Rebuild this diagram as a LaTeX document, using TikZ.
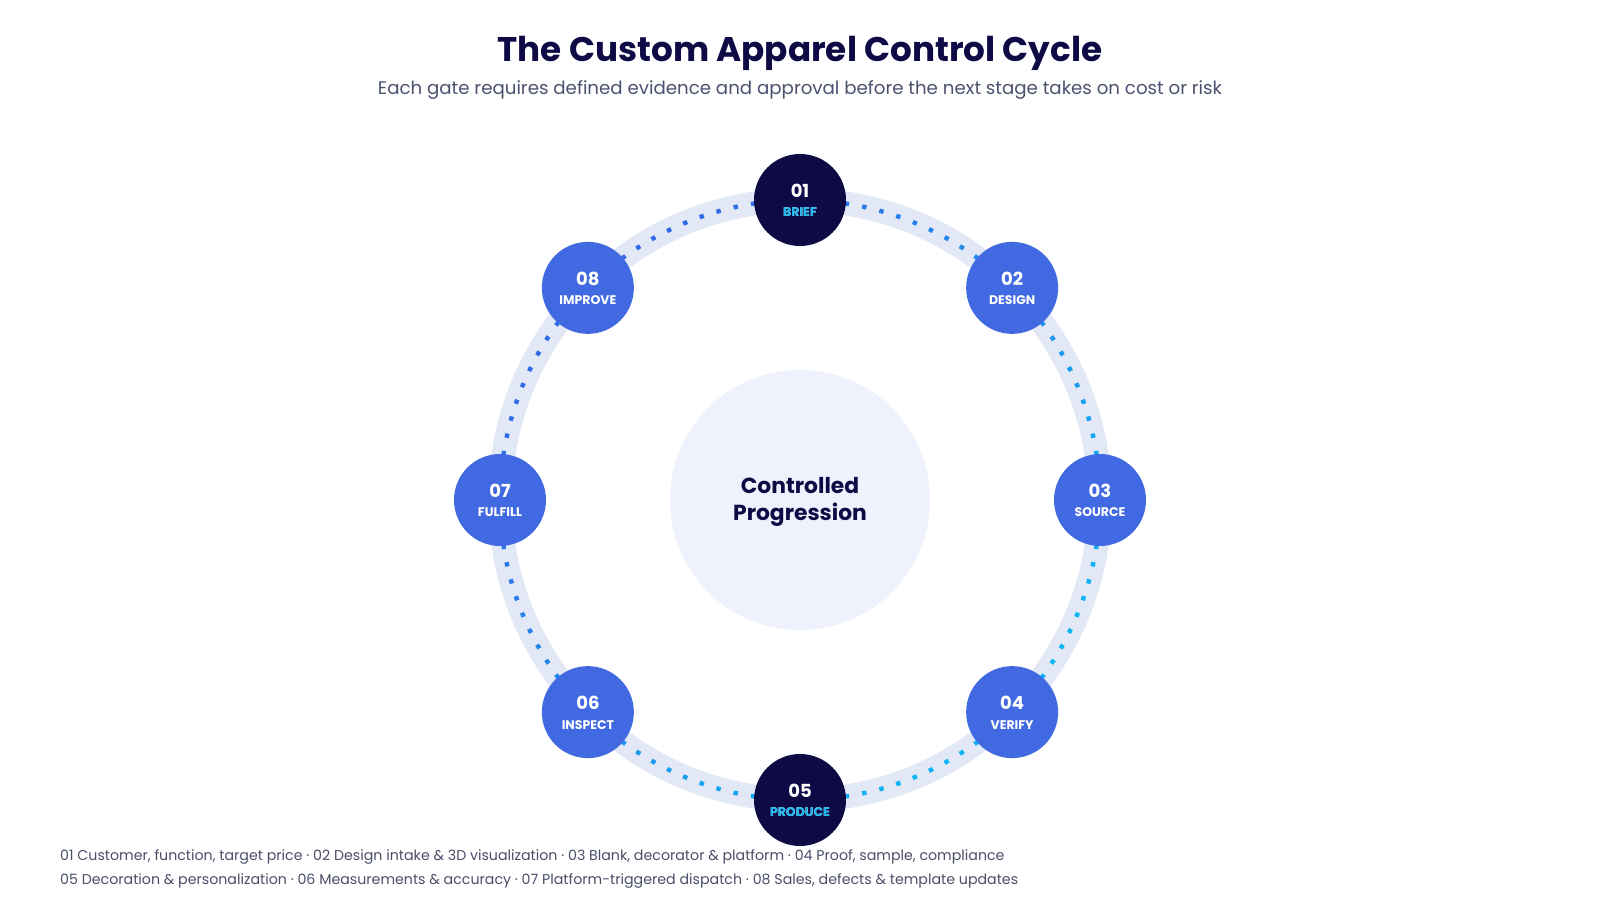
\documentclass[tikz,border=0pt]{standalone}
\usepackage{fontspec}
\setmainfont{Poppins}
\usetikzlibrary{calc}
\definecolor{navy}{HTML}{0E0A45}
\definecolor{royal}{HTML}{4169E1}
\definecolor{bandcol}{HTML}{E3E8F7}
\definecolor{hubcol}{HTML}{EFF2FC}
\definecolor{dotblue}{HTML}{2F6BE6}
\definecolor{dotcyan}{HTML}{0BB4F4}
\definecolor{gatecyan}{HTML}{19B8EE}
\definecolor{subgray}{HTML}{4B5270}
\definecolor{footgray}{HTML}{4A4F68}

\begin{document}
\begin{tikzpicture}[x=1pt,y=1pt,
   every node/.style={align=center,inner sep=0pt},
   stage/.style={circle,minimum size=92pt,fill=royal},
   gate/.style={stage,fill=navy},
   num/.style={font=\fontsize{18}{20}\selectfont\bfseries,text=white},
   lbl/.style={font=\fontsize{12.5}{14}\selectfont\bfseries,text=white},
   foot/.style={anchor=west,font=\fontsize{14.2}{17}\selectfont,text=footgray}]
  \useasboundingbox[fill=white] (0,0) rectangle (1600,900);
  \coordinate (ctr) at (800,400);
  % titles
  \node[font=\fontsize{34.2}{40}\selectfont\bfseries,text=navy] (title) at (800,847) {The Custom Apparel Control Cycle};
  \node[font=\fontsize{18.2}{22}\selectfont,text=subgray] (subtitle) at (800,810) {Each gate requires defined evidence and approval before the next stage takes on cost or risk};
  % ring and hub
  \draw[bandcol,line width=24pt] (ctr) circle (300);
  \node[circle,fill=hubcol,minimum size=260pt] (hub) at (ctr) {};
  \node[font=\fontsize{21.8}{27.5}\selectfont\bfseries,text=navy] (hubtext) at (800,398) {Controlled\\Progression};
  % dotted arcs, blue to cyan
  \foreach \s in {90,45,0,-45,-90,-135,-180,-225} {
    \foreach \k in {0,...,8} {
      \pgfmathsetmacro{\a}{\s-9-27*\k/8}
      \pgfmathsetmacro{\t}{max(0,min(100,50+38*(cos(\a)-sin(\a))))}
      \fill[dotcyan!\t!dotblue,shift={(ctr)},rotate=\a] (297.8,-2.2) rectangle (302.2,2.2);
    }
  }
  % stages
  \node[gate] (brief) at ($(ctr)+(90:300)$) {};
  \node[stage] (design) at ($(ctr)+(45:300)$) {};
  \node[stage] (source) at ($(ctr)+(0:300)$) {};
  \node[stage] (verify) at ($(ctr)+(-45:300)$) {};
  \node[gate] (produce) at ($(ctr)+(-90:300)$) {};
  \node[stage] (inspect) at ($(ctr)+(-135:300)$) {};
  \node[stage] (fulfill) at ($(ctr)+(180:300)$) {};
  \node[stage] (improve) at ($(ctr)+(135:300)$) {};
  \foreach \n/\i/\l in {brief/01/BRIEF,design/02/DESIGN,source/03/SOURCE,verify/04/VERIFY,
      produce/05/PRODUCE,inspect/06/INSPECT,fulfill/07/FULFILL,improve/08/IMPROVE} {
    \node[num] (\n-num) at ([yshift=9pt]\n.center) {\i};
    \node[lbl] (\n-lbl) at ([yshift=-12.5pt]\n.center) {\l};
  }
  \node[lbl,text=gatecyan] at (brief-lbl) {BRIEF};
  \node[lbl,text=gatecyan] at (produce-lbl) {PRODUCE};
  % footer
  \node[foot] (foot1) at (60,43) {01 Customer, function, target price · 02 Design intake \& 3D visualization · 03 Blank, decorator \& platform · 04 Proof, sample, compliance};
  \node[foot] (foot2) at (60,19) {05 Decoration \& personalization · 06 Measurements \& accuracy · 07 Platform-triggered dispatch · 08 Sales, defects \& template updates};
\end{tikzpicture}
\end{document}
